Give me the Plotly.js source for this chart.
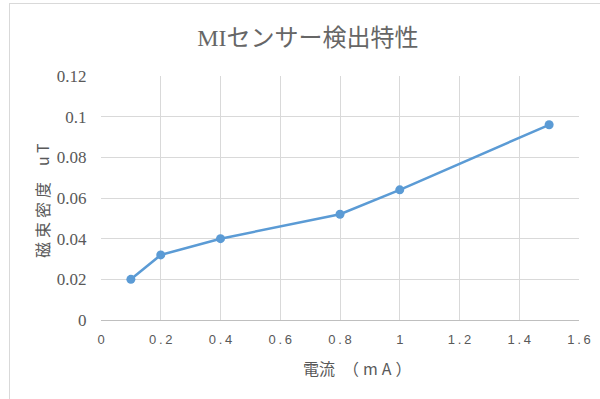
<!DOCTYPE html>
<html><head><meta charset="utf-8">
<script src="https://cdn.plot.ly/plotly-3.0.1.min.js"></script>
<style>
html,body{margin:0;padding:0;background:#fff;width:600px;height:399px;overflow:hidden;}
#chart{position:absolute;left:0;top:0;width:600px;height:399px;}
#frame{position:absolute;left:9px;top:3px;width:700px;height:500px;border-left:1px solid #d9d9d9;border-top:1px solid #d9d9d9;pointer-events:none;}
</style></head>
<body>
<div id="chart"></div>
<div id="frame"></div>
<script>
const current = [0.1, 0.2, 0.4, 0.8, 1.0, 1.5];
const fluxDensity = [0.02, 0.032, 0.04, 0.052, 0.064, 0.096];
const xTickVals = [0, 0.2, 0.4, 0.6, 0.8, 1, 1.2, 1.4, 1.6];
const xTickText = ['0', '0.2', '0.4', '0.6', '0.8', '1', '1.2', '1.4', '1.6'];
const yTickVals = [0, 0.02, 0.04, 0.06, 0.08, 0.1, 0.12];
const yTickText = ['0', '0.02', '0.04', '0.06', '0.08', '0.1', '0.12'];

const spaced = s => s.split('').join('\u2009');

const trace = {
  x: current, y: fluxDensity, type: 'scatter', mode: 'lines+markers',
  line: {color: '#5B9BD5', width: 2.5},
  marker: {color: '#5B9BD5', size: 9},
  hoverinfo: 'none'
};
const grey = '#595959';
const layout = {
  width: 600, height: 399,
  margin: {l: 101, r: 21, t: 76, b: 79},
  paper_bgcolor: 'rgba(0,0,0,0)', plot_bgcolor: '#fff',
  showlegend: false,
  font: {family: 'Liberation Serif', color: grey},
  title: {
    text: '<span style="font-family:Liberation Serif">MI</span>センサー検出特性',
    font: {family: 'Noto Sans CJK JP', size: 24, color: '#666666'},
    x: 0.513, xref: 'container', xanchor: 'center', y: 0.905, yref: 'container', yanchor: 'middle'
  },
  xaxis: {
    range: [0, 1.6], tickvals: xTickVals, ticktext: xTickText.map(spaced),
    showgrid: true, gridcolor: '#d9d9d9', gridwidth: 1, zeroline: false,
    showline: true, linecolor: '#bfbfbf', linewidth: 1, mirror: false,
    ticks: 'outside', ticklen: 7, tickcolor: 'rgba(0,0,0,0)',
    tickfont: {family: 'Liberation Sans', size: 13, color: grey}
  },
  yaxis: {
    range: [0, 0.12], tickvals: yTickVals, ticktext: yTickText,
    showgrid: true, gridcolor: '#d9d9d9', gridwidth: 1, zeroline: false,
    showline: false,
    ticks: 'outside', ticklen: 10, tickcolor: 'rgba(0,0,0,0)',
    tickfont: {family: 'Times New Roman', size: 17, color: grey}
  },
  annotations: [
    {text: '電流\u3000（\u2005m\u2005A\u2005）', xref: 'paper', yref: 'paper', x: 0.5356, y: -0.197,
     xanchor: 'center', yanchor: 'middle', showarrow: false,
     font: {family: 'Noto Sans CJK JP', size: 16, color: grey}},
    {text: '磁\u2005束\u2005密\u2005度\u3000u\u2009T', xref: 'paper', yref: 'paper', x: -0.1234, y: 0.488,
     xanchor: 'center', yanchor: 'middle', showarrow: false, textangle: -90,
     font: {family: 'Noto Sans CJK JP', size: 16, color: grey}}
  ]
};
Plotly.newPlot('chart', [trace], layout, {staticPlot: true, displayModeBar: false});
</script>
</body></html>
